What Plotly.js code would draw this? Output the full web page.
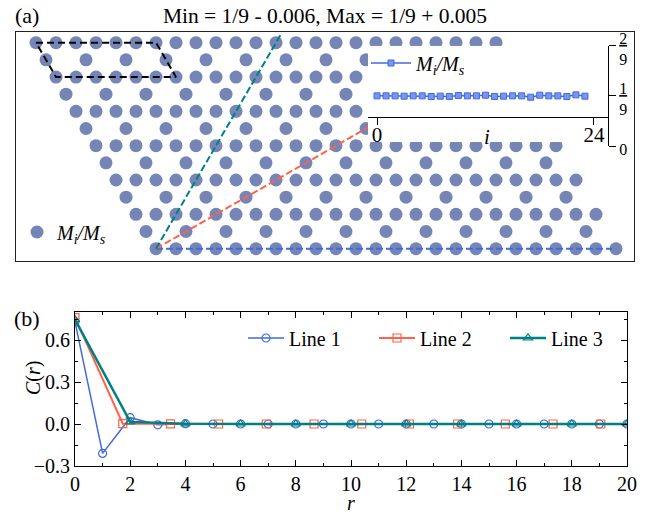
<!DOCTYPE html>
<html><head><meta charset="utf-8">
<script src="https://cdn.plot.ly/plotly-3.0.1.min.js"></script>
<style>body{margin:0;padding:0;background:#fff;overflow:hidden}#chart{width:652px;height:514px}</style>
</head><body><div id="chart"></div>
<script>
// ---------- data ----------
const titleText = 'Min = 1/9 - 0.006, Max = 1/9 + 0.005';
const latticeName = '<i>M<sub>i</sub>/M<sub>s</sub></i>';
// kagome cluster: 13 rows, 24 sites per full row, 12 per sparse row
const nRows = 13;
const fullRowSites = 24;
const sparseRowSites = 12;
// inset: M_i/M_s along the chain
const insetI = [0,1,2,3,4,5,6,7,8,9,10,11,12,13,14,15,16,17,18,19,20,21,22,23];
const insetM = [0.1111,0.1111,0.1111,0.1104,0.1111,0.1111,0.1096,0.1104,0.1096,0.1118,0.1111,0.1111,
                0.1126,0.1096,0.1104,0.1111,0.1111,0.1081,0.1126,0.1111,0.1111,0.1096,0.1133,0.1104];
const insetTickVals = [0, 1/9, 2/9];
const insetTickText = ['0', '<u>1</u><br>9', '<u>2</u><br>9'];
const insetXTickVals = [0, 24];
const insetXTickText = ['0', '24'];
// panel (b)
const r1 = [0,1,2,3,4,5,6,7,8,9,10,11,12,13,14,15,16,17,18,19,20];
const c1 = [0.73,-0.21,0.045,-0.006,0.002,0.0,0.0,0.0,0.0,0.0,0.0,0.0,0.0,0.0,0.0,0.0,0.0,0.0,0.0,0.0,0.0];
const r2 = [0,1.73,3.46,5.20,6.93,8.66,10.39,12.12,13.86,15.59,17.32,19.05];
const c2 = [0.76,0.002,0.001,0.0,0.0,0.0,0.0,0.0,0.0,0.0,0.0,0.0];
const r3 = [0,2,4,6,8,10,12,14,16,18,20];
const c3 = [0.745,0.015,0.001,0.0,0.0,0.0,0.0,0.0,0.0,0.0,0.0];
const lineNames = ['Line 1','Line 2','Line 3'];

// ---------- geometry of the cluster ----------
const S3 = Math.sqrt(3);
const lx = [], ly = [];
for (let r = 0; r < nRows; r++) {
  const k = Math.floor(r / 2);
  if (r % 2 === 0) { for (let j = 0; j < fullRowSites; j++) { lx.push(k + j); ly.push(-r * S3 / 2); } }
  else { for (let j = 0; j < sparseRowSites; j++) { lx.push(k + 0.5 + 2 * j); ly.push(-r * S3 / 2); } }
}
const origin = [ (nRows - 1) / 2, -(nRows - 1) * S3 / 2 ];
const cutAngles = [0, 30, 60];
const cutLengths = [22.8, 20, 12.45];
function cut(i) {
  const a = cutAngles[i] * Math.PI / 180;
  return { x: [origin[0], origin[0] + cutLengths[i] * Math.cos(a)], y: [origin[1], origin[1] + cutLengths[i] * Math.sin(a)] };
}
const cellX = [0, 6, 7, 1, 0];
const cellY = [0, 0, -S3, -S3, 0];

// ---------- styling ----------
const W = 652, H = 514;
const fx = p => p / W, fy = p => 1 - p / H;
const FONT = 'Liberation Serif, Times New Roman, serif';
const BLUE = '#4169E1', RED = '#FF6347', TEAL = '#008080', DOT = '#7585b6';

const traces = [];
traces.push({x: lx, y: ly, xaxis: 'x', yaxis: 'y', mode: 'markers', type: 'scatter', name: latticeName,
  legend: 'legend', marker: {size: 13, color: DOT}, hoverinfo: 'skip'});
traces.push({x: cellX, y: cellY, xaxis: 'x', yaxis: 'y', mode: 'lines', showlegend: false,
  line: {color: 'black', width: 2, dash: '7px,4px'}, hoverinfo: 'skip'});
const cutColors = [BLUE, RED, TEAL];
[0,1,2].forEach(i => { const c = cut(i);
  traces.push({x: c.x, y: c.y, xaxis: 'x', yaxis: 'y', mode: 'lines', showlegend: false,
    line: {color: cutColors[i], width: 2, dash: '7px,3px'}, hoverinfo: 'skip'}); });

// panel (b)
traces.push({x: r1, y: c1, xaxis: 'x2', yaxis: 'y2', mode: 'lines+markers', name: lineNames[0], legend: 'legend3',
  line: {color: BLUE, width: 1.5}, marker: {symbol: 'circle-open', size: 8, color: BLUE, line: {width: 1.2}}});
traces.push({x: r2, y: c2, xaxis: 'x2', yaxis: 'y2', mode: 'lines+markers', name: lineNames[1], legend: 'legend3',
  line: {color: RED, width: 2}, marker: {symbol: 'square-open', size: 8, color: RED, line: {width: 1.2}}});
traces.push({x: r3, y: c3, xaxis: 'x2', yaxis: 'y2', mode: 'lines+markers', name: lineNames[2], legend: 'legend3',
  line: {color: TEAL, width: 2.5}, marker: {symbol: 'triangle-up-open', size: 8, color: TEAL, line: {width: 1.2}}});

// inset: white background then data
const ix0 = -0.995, ix1 = 25.55, iyb = 0.009;
traces.push({x: [ix0, ix1, ix1, ix0, ix0], y: [iyb, iyb, 2/9, 2/9, iyb], xaxis: 'x3', yaxis: 'y3', mode: 'lines',
  fill: 'toself', fillcolor: 'white', line: {width: 0, color: 'white'}, showlegend: false, hoverinfo: 'skip'});
traces.push({x: insetI, y: insetM, xaxis: 'x3', yaxis: 'y3', mode: 'lines+markers', name: latticeName, legend: 'legend2',
  line: {color: BLUE, width: 1.5}, marker: {symbol: 'square', size: 6, color: 'rgba(120,150,240,1)', line: {color: BLUE, width: 1}}});

const frameAxis = {showline: true, mirror: true, linecolor: '#222', linewidth: 1.2, ticks: '', showticklabels: false,
  showgrid: false, zeroline: false, fixedrange: true};
const bAxis = {showline: true, mirror: 'allticks', linecolor: 'black', linewidth: 1, ticks: 'inside', ticklen: 6,
  tickwidth: 1, tickcolor: 'black', showgrid: false, zeroline: false, tickfont: {size: 20, family: FONT}, fixedrange: true};
const ann = (text, x, y, size, extra) => Object.assign({text, x: fx(x), y: fy(y), xref: 'paper', yref: 'paper',
  xanchor: 'center', yanchor: 'middle', showarrow: false, font: {size, family: FONT}}, extra || {});

const layout = {
  width: W, height: H, margin: {l: 0, r: 0, t: 0, b: 0, autoexpand: false},
  paper_bgcolor: 'white', plot_bgcolor: 'rgba(0,0,0,0)',
  font: {family: FONT, color: 'black', size: 20},
  title: {text: titleText, x: fx(325), xanchor: 'center', y: fy(15), yanchor: 'middle', font: {size: 21.5, family: FONT}},
  xaxis: Object.assign({}, frameAxis, {domain: [fx(16), fx(634)], range: [-1, 29.9], anchor: 'y'}),
  yaxis: Object.assign({}, frameAxis, {domain: [fy(261), fy(32)], range: [-(261 - 42.7) / 19.82, (42.7 - 32) / 19.82], anchor: 'x'}),
  xaxis2: Object.assign({}, bAxis, {domain: [fx(75), fx(627)], range: [0, 20], anchor: 'y2', dtick: 2, tick0: 0,
    minor: {dtick: 1, ticklen: 3, ticks: 'inside', tickcolor: 'black'},
    title: {text: '<i>r</i>', font: {size: 20, family: FONT}, standoff: 0}}),
  yaxis2: Object.assign({}, bAxis, {domain: [fy(466), fy(312)], range: [-0.3, 0.8], anchor: 'x2', dtick: 0.3, tick0: 0,
    tickformat: '.1f', minor: {dtick: 0.15, ticklen: 3, ticks: 'inside', tickcolor: 'black'}}),
  xaxis3: {domain: [fx(368), fx(608)], range: [ix0, ix1], anchor: 'free', position: fy(117), showline: true,
    linecolor: 'black', linewidth: 1, ticks: 'outside', ticklen: 7, tickcolor: 'black', tickvals: insetXTickVals,
    ticktext: insetXTickText, ticklabelstandoff: -8, showgrid: false, zeroline: false, tickfont: {size: 21, family: FONT}, fixedrange: true},
  yaxis3: {domain: [fy(146), fy(45.7)], range: [0, 2/9], anchor: 'free', position: fx(608), side: 'right', showline: true,
    linecolor: 'black', linewidth: 1, ticks: 'outside', ticklen: 7, tickcolor: 'black', tickvals: insetTickVals,
    ticktext: insetTickText, ticklabelshift: 3, showgrid: false, zeroline: false, tickfont: {size: 16, family: FONT}, fixedrange: true},
  legend: {x: fx(17), y: fy(232), xanchor: 'left', yanchor: 'middle', bgcolor: 'rgba(0,0,0,0)', font: {size: 20, family: FONT}},
  legend2: {x: fx(366), y: fy(63), xanchor: 'left', yanchor: 'middle', bgcolor: 'rgba(0,0,0,0)', itemwidth: 40, font: {size: 20, family: FONT}},
  legend3: {x: fx(243), y: fy(338), xanchor: 'left', yanchor: 'middle', orientation: 'h', bgcolor: 'rgba(0,0,0,0)',
    itemwidth: 36, entrywidth: 80, font: {size: 20, family: FONT}},
  annotations: [
    ann('(a)', 27, 15, 22),
    ann('(b)', 27, 318, 22),
    ann('<i>i</i>', 487, 137, 21),
    ann('<i>C</i>(<i>r</i>)', 33, 378, 20, {textangle: -90})
  ]
};
Plotly.newPlot('chart', traces, layout, {staticPlot: true, displayModeBar: false});
</script></body></html>
